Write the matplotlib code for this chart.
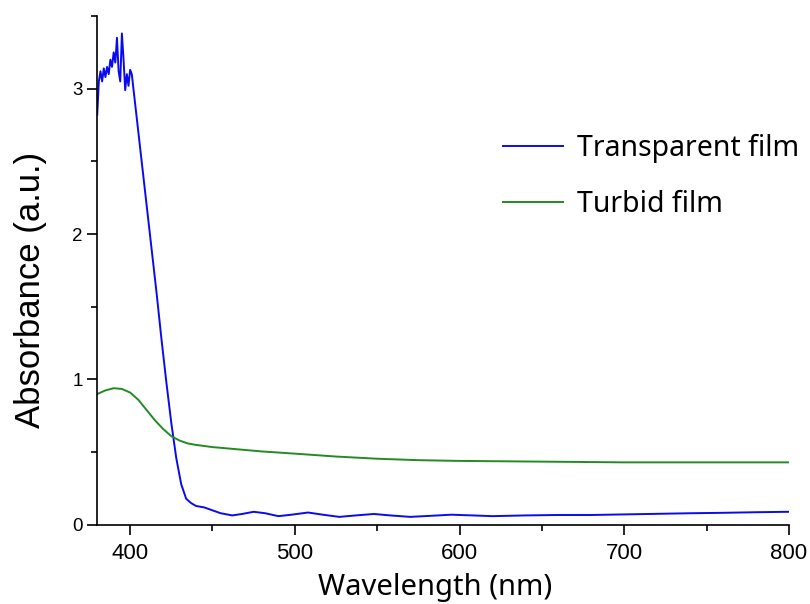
import numpy as np
import matplotlib.pyplot as plt
from matplotlib.ticker import MultipleLocator

# transparent film
wl_t = [380, 381, 382, 383, 384, 385, 386, 387, 388, 389, 390, 391, 392, 393,
        394, 395, 396, 397, 398, 399, 400, 401, 402, 404, 406, 408, 410, 413,
        416, 419, 422, 425, 428, 431, 434, 437, 440, 445, 450, 455, 462, 468,
        475, 482, 490, 498, 508, 517, 527, 537, 548, 558, 570, 582, 595, 608,
        620, 640, 660, 680, 700, 720, 740, 760, 780, 800]
abs_t = [2.82, 3.05, 3.12, 3.05, 3.14, 3.08, 3.15, 3.10, 3.20, 3.15, 3.25, 3.18,
         3.35, 3.12, 3.05, 3.38, 3.20, 2.99, 3.10, 3.02, 3.13, 3.10, 3.00, 2.80,
         2.60, 2.40, 2.20, 1.90, 1.60, 1.28, 0.98, 0.70, 0.46, 0.28, 0.18, 0.15,
         0.13, 0.12, 0.10, 0.08, 0.065, 0.075, 0.09, 0.08, 0.06, 0.07, 0.085,
         0.07, 0.055, 0.065, 0.075, 0.065, 0.055, 0.062, 0.07, 0.065, 0.06,
         0.065, 0.068, 0.068, 0.072, 0.076, 0.08, 0.083, 0.087, 0.09]

# turbid film
wl_b = [380, 385, 390, 395, 400, 405, 410, 415, 420, 425, 430, 435, 440, 450,
        460, 480, 500, 525, 550, 575, 600, 650, 700, 750, 800]
abs_b = [0.90, 0.925, 0.94, 0.935, 0.91, 0.86, 0.79, 0.72, 0.66, 0.61, 0.58,
         0.56, 0.55, 0.535, 0.525, 0.505, 0.49, 0.47, 0.455, 0.445, 0.44,
         0.435, 0.43, 0.43, 0.43]

fig = plt.figure(figsize=(8.1, 6.04), dpi=100)
ax = fig.add_axes([0.12, 0.131, 0.854, 0.8425])

ax.plot(wl_t, abs_t, color='#0a0af0', lw=1.4, label='Transparent film')
ax.plot(wl_b, abs_b, color='#238b23', lw=1.4, label='Turbid film')

ax.set_xlim(380, 800)
ax.set_ylim(0, 3.5)
ax.set_xticks([400, 500, 600, 700, 800])
ax.set_yticks([0, 1, 2, 3])
ax.xaxis.set_minor_locator(MultipleLocator(50))
ax.yaxis.set_minor_locator(MultipleLocator(0.5))
ax.tick_params(which='major', direction='out', length=7, width=1.2)
ax.tick_params(which='minor', direction='out', length=4, width=1.2)
ax.tick_params(axis='x', which='major', pad=6)
for lab in ax.get_xticklabels():
    lab.set_family('Liberation Sans')
    lab.set_fontsize(16)
for lab in ax.get_yticklabels():
    lab.set_family('Liberation Sans')
    lab.set_fontsize(13.5)

ax.spines['top'].set_visible(False)
ax.spines['right'].set_visible(False)
ax.spines['left'].set_linewidth(1.2)
ax.spines['bottom'].set_linewidth(1.2)

ax.set_xlabel('Wavelength (nm)', fontsize=21, family='Noto Sans')
ax.set_ylabel('Absorbance (a.u.)', fontsize=25, family='Liberation Sans')
ax.xaxis.set_label_coords(0.488, -0.095)
ax.yaxis.set_label_coords(-0.072, 0.462)

ax.legend(loc='center left', bbox_to_anchor=(0.607, 0.708),
          bbox_transform=fig.transFigure, borderaxespad=0, frameon=False,
          prop={'family': 'Noto Sans', 'size': 20.5}, handlelength=2.1,
          handletextpad=0.5, labelspacing=0.94)

fig.savefig('out.png', dpi=100)
